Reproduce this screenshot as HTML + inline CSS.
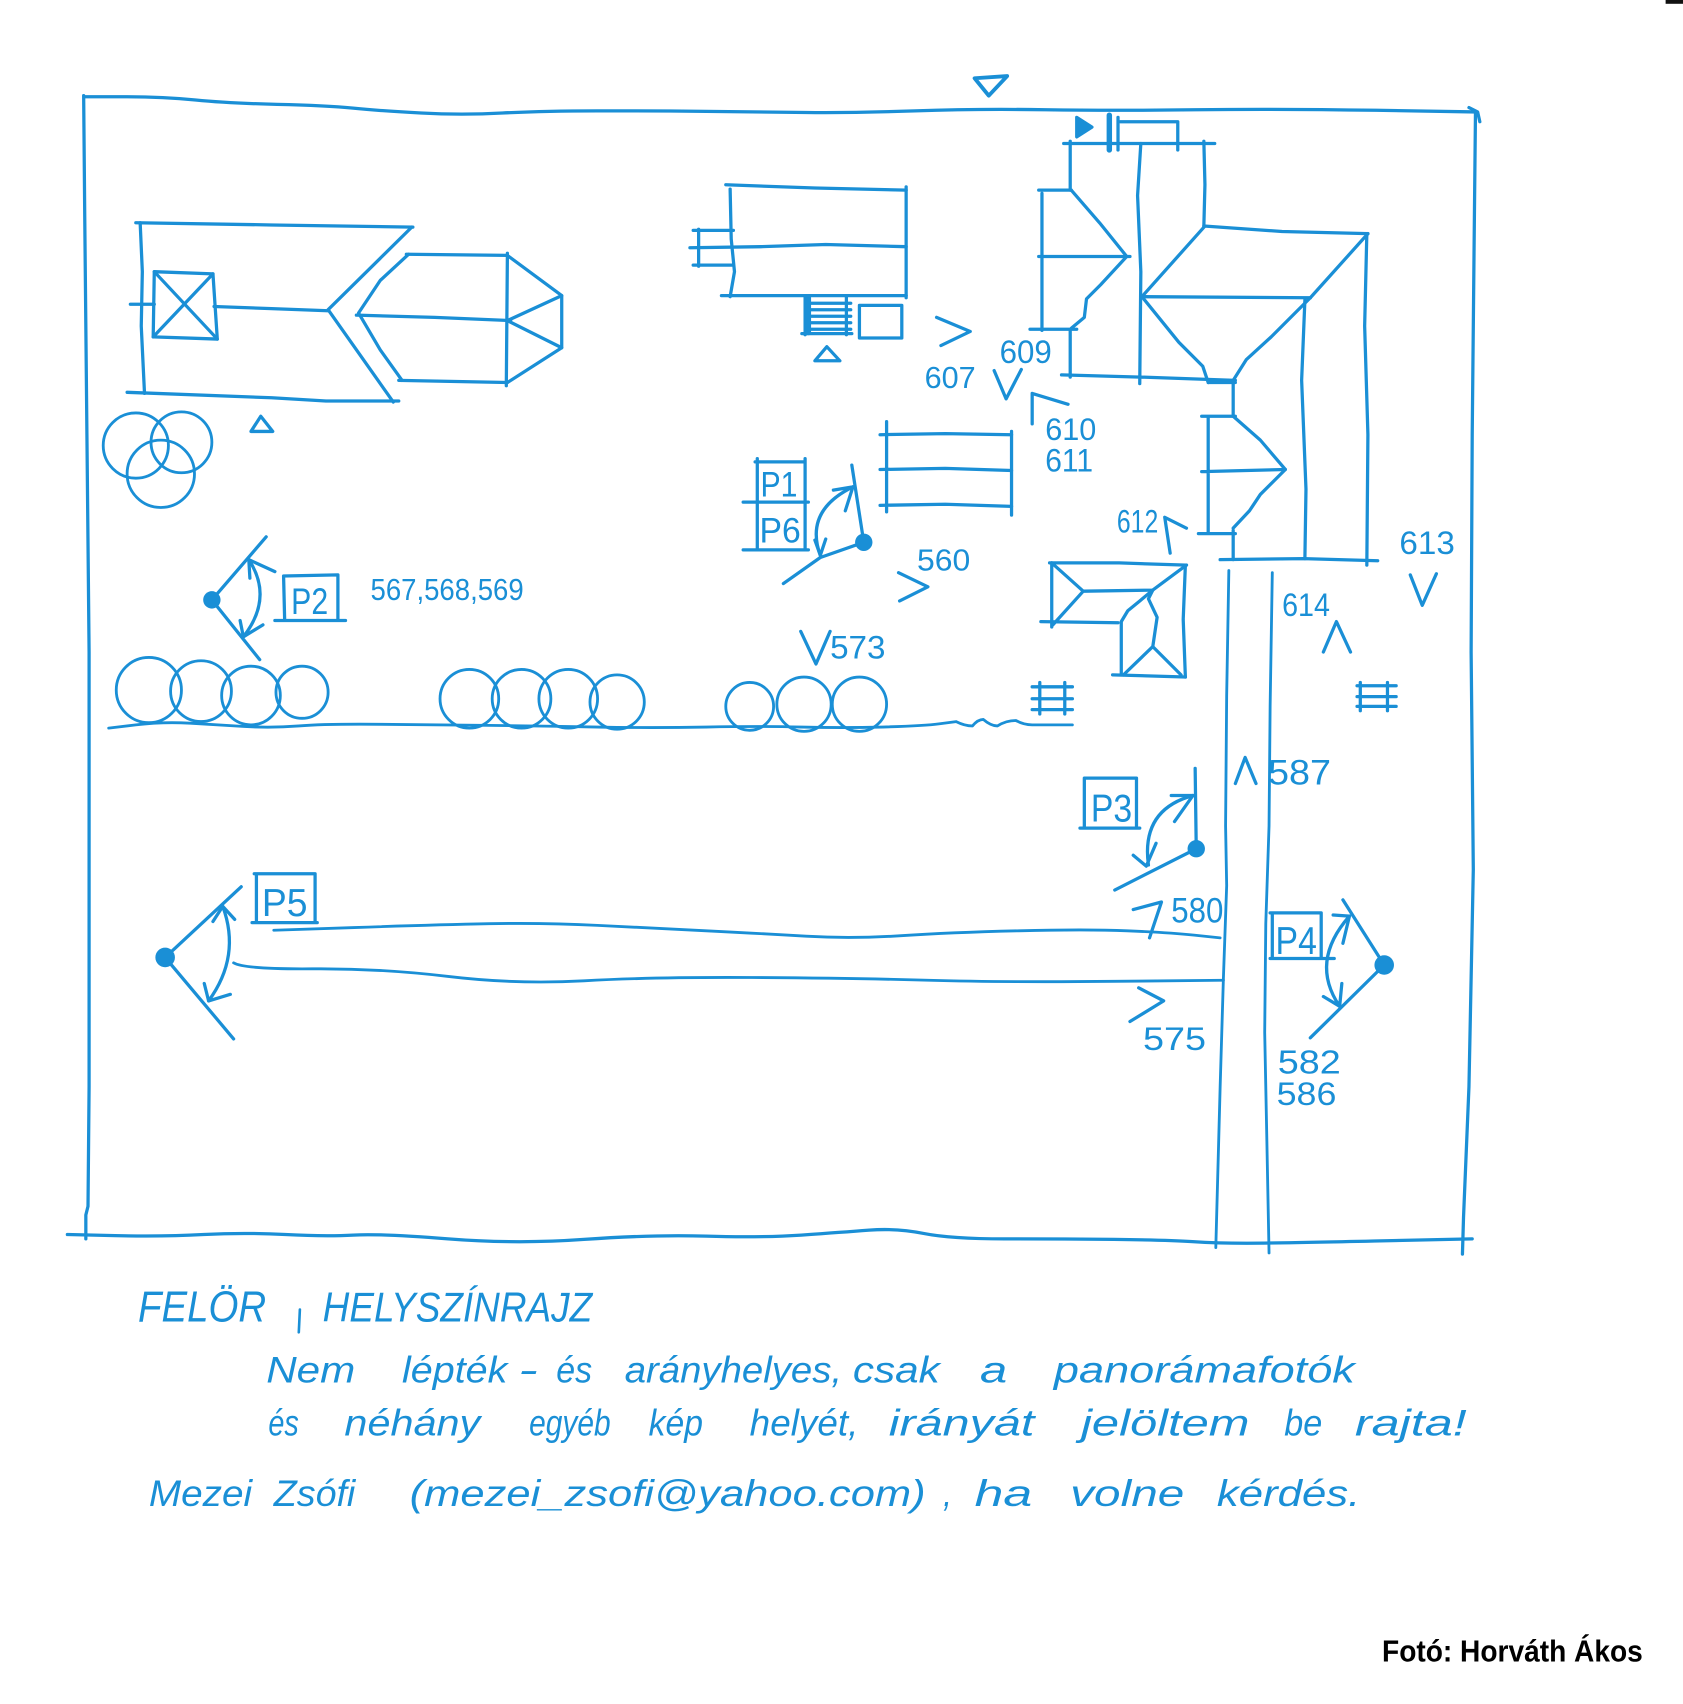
<!DOCTYPE html>
<html><head><meta charset="utf-8"><style>
html,body{margin:0;padding:0;background:#fff;}
svg{display:block;}
</style></head><body>
<svg width="1683" height="1704" viewBox="0 0 1549 1568" preserveAspectRatio="none" xmlns="http://www.w3.org/2000/svg">
<rect x="0" y="0" width="1549" height="1568" fill="#fff"/>
<rect x="1533" y="0" width="16" height="3.5" fill="#111"/>
<g fill="none" stroke="#1a8fd6" stroke-width="3" stroke-linecap="round" stroke-linejoin="round">
<!-- outer border -->
<path d="M78,89 L114,89 Q150,89 180,92 Q210,95 255,96 Q300,97 325,99.5 Q350,102 387.5,104 Q425,106 462.5,104 Q500,102 550,102 Q600,102 650,102.5 Q700,103 742,103.5 Q784,104 842,102 Q900,100 962.5,101 Q1025,102 1100,101 Q1175,100 1266.5,101.5 L1358,103"/>
<path d="M1352,99 L1360,103 L1362,112"/>
<path d="M1358,103 L1357,200 L1355,400 L1354,600 L1356,800 L1352,1000 L1347,1120 L1346,1154"/>
<path d="M62,1136 L106,1137 Q150,1138 187.5,1136 Q225,1134 262.5,1136 Q300,1138 325,1136.5 Q350,1135 412.5,1140 Q475,1145 537.5,1140.5 Q600,1136 650,1137.5 Q700,1139 737.5,1136.5 Q775,1134 800,1132 Q825,1130 850,1135 Q875,1140 925,1140 Q975,1140 1025,1140.5 Q1075,1141 1097.5,1142.5 Q1120,1144 1147.5,1144 Q1175,1144 1265,1142 L1355,1140"/>
<path d="M77,88 L78,200 L80,400 L82,600 L82,800 L82,1000 L81,1110 L79,1118 L79,1140"/>
<!-- north triangle -->
<path d="M897,72 L927,70 L910,88 Z" stroke-width="3.5"/>
<!-- left building -->
<path d="M125,205 L250,207 L380,209"/>
<path d="M129,205 L131,250 L130,300 L133,362"/>
<path d="M117,361 L250,366 L300,369 L367,369"/>
<path d="M379,209 L302,285 L362,370"/>
<path d="M376,234 L350,258 L330,288 L350,322 L370,350"/>
<path d="M374,234 L467,235"/>
<path d="M367,350 L467,352"/>
<path d="M328,290 L400,292 L470,295"/>
<path d="M467,233 L466,355"/>
<path d="M467,235 L517,272 L517,320 L467,352"/>
<path d="M467,295 L517,272 M467,295 L517,320"/>
<path d="M197,282 L250,284 L302,286"/>
<path d="M142,250 L196,252 L200,312 L141,310 Z"/>
<path d="M142,250 L200,312 M196,252 L141,310"/>
<path d="M120,280 L142,280"/>
<circle cx="125" cy="410" r="30" stroke-width="2.6"/>
<circle cx="167" cy="407" r="28" stroke-width="2.6"/>
<circle cx="148" cy="436" r="31" stroke-width="2.6"/>
<path d="M231,397 L240,383 L251,397 Z"/>
<!-- top middle building -->
<path d="M668,170 L750,173 L834,175"/>
<path d="M672,174 L673,220 L676,250 L672,273"/>
<path d="M834,172 L834,274"/>
<path d="M635,228 L700,227 L760,225 L834,227"/>
<path d="M664,272 L834,272"/>
<path d="M638,212 L675,212 M638,244 L675,244 M643,211 L643,245"/>
<path d="M741,272 L741,308 M779,272 L779,308 M741,279 L783,279 M741,285 L783,285 M741,291 L783,291 M741,297 L783,297 M741,303 L783,303 M738,307 L784,307"/>
<path d="M744,274 L744,306" stroke-width="5"/>
<path d="M791,281 L830,281 L830,311 L791,311 Z"/>
<path d="M750,332 L761,319 L773,332 Z"/>
<path d="M862,292 L893,305 L866,318"/>
<path d="M915,341 L926,367 L940,340"/>
<path d="M950,390 L950,362 L983,372"/>
<!-- complex building -->
<path d="M979,132 L1118,132"/>
<path d="M991,108 L1005,117 L991,126 Z" fill="#1a8fd6"/>
<path d="M1021,106 L1021,138" stroke-width="5"/>
<path d="M1029,108 L1029,138"/>
<path d="M1031,112 L1084,112 L1084,138"/>
<path d="M985,130 L985,175"/>
<path d="M956,175 L986,175 M959,178 L959,304 M956,236 L1040,236 M948,303 L991,303"/>
<path d="M986,175 L1012,205 L1037,236 L1013,262 L1000,275 L998,292 L986,302"/>
<path d="M985,304 L985,347"/>
<path d="M977,345 L1050,347 L1137,350"/>
<path d="M1050,132 L1047,180 L1050,250 L1049,353"/>
<path d="M1108,130 L1109,170 L1108,208"/>
<path d="M1108,208 L1180,213 L1259,215"/>
<path d="M1258,215 L1256,300 L1259,400 L1258,520"/>
<path d="M1109,208 L1051,273"/>
<path d="M1051,273 L1206,274"/>
<path d="M1259,215 L1206,274"/>
<path d="M1051,273 L1085,315 L1107,337 L1112,352"/>
<path d="M1206,274 L1170,310 L1147,331 L1135,350"/>
<path d="M1201,276 L1198,350 L1202,450 L1201,514"/>
<path d="M1112,352 L1137,352"/>
<path d="M1135,350 L1135,383"/>
<path d="M1106,383 L1137,383 M1112,383 L1112,491 M1106,434 L1183,432 M1103,491 L1137,491"/>
<path d="M1135,383 L1160,405 L1183,432 L1160,455 L1150,470 L1135,486"/>
<path d="M1135,488 L1135,515"/>
<path d="M1123,515 L1200,514 L1268,516"/>
<path d="M1077,509 L1072,476 L1092,486"/>
<path d="M1298,529 L1309,557 L1322,528"/>
<!-- road -->
<path d="M1131,525 L1129,640 L1128,760 L1129,815 L1126,900 L1123,1000 L1119,1148" stroke-width="2.6"/>
<path d="M1171,527 L1169,650 L1168,760 L1165,850 L1164,950 L1166,1050 L1168,1153" stroke-width="2.6"/>
<path d="M1218,600 L1230,572 L1243,600"/>
<!-- ladders -->
<path d="M957,628 L957,657 M980,628 L980,657 M950,632 L987,632 M950,643 L987,643 M950,653 L987,653"/>
<path d="M1252,628 L1252,654 M1277,628 L1277,654 M1249,631 L1285,631 M1249,641 L1285,641 M1249,650 L1285,650"/>
<!-- small L building -->
<path d="M966,518 L1030,518 L1092,520"/>
<path d="M968,518 L968,577"/>
<path d="M958,572 L1029,573"/>
<path d="M1032,573 L1032,621"/>
<path d="M1024,621 L1091,623"/>
<path d="M1091,520 L1089,570 L1091,623"/>
<path d="M968,518 L997,544 L969,575 M997,544 L1061,543 L1092,520"/>
<path d="M1061,543 L1049,553 L1038,562 L1032,572"/>
<path d="M1061,543 L1057,551 L1065,568 L1061,595 L1034,621 M1061,595 L1087,621"/>
<!-- ground & circles -->
<path d="M100,670 L125,667 Q150,664 175,665.5 Q200,667 225,668.5 Q250,670 275,668 Q300,666 350,666.5 Q400,667 450,667.5 Q500,668 550,669 Q600,670 650,669 Q700,668 737.5,669 Q775,670 812.5,669 Q850,668 865,666 L880,664 Q888,668 895,668 Q900,662 905,662 Q912,668 918,668 Q926,663 935,663 Q942,667 950,667 L987,667" stroke-width="2.6"/>
<g stroke-width="2.6">
<circle cx="137" cy="635" r="30"/><circle cx="185" cy="636" r="28"/><circle cx="231" cy="640" r="27"/><circle cx="278" cy="637" r="24"/>
<circle cx="432" cy="643" r="27"/><circle cx="480" cy="643" r="27"/><circle cx="523" cy="643" r="27"/><circle cx="568" cy="646" r="25"/>
<circle cx="690" cy="650" r="22"/><circle cx="740" cy="648" r="25"/><circle cx="791" cy="648" r="25"/>
</g>
<path d="M737,581 L751,611 L764,581"/>
<!-- band rect -->
<path d="M810,400 L870,399 L931,400"/>
<path d="M810,432 L870,431 L931,433"/>
<path d="M810,465 L870,464 L931,466"/>
<path d="M816,388 L816,471 M931,397 L931,474"/>
<!-- P1 -->
<path d="M695,425 L741,425 M697,422 L697,506 M741,422 L741,506 M684,462 L744,462 M684,506 L744,506"/>
<path d="M795,499 L784,428 M795,499 L755,513 L721,537"/>
<path d="M755,511 Q740,470 785,448"/>
<path d="M785,448 L767,451 M785,448 L778,470 M755,511 L750,497 M755,511 L760,496"/>
<path d="M827,527 L854,540 L828,553"/>
<!-- P2 -->
<path d="M195,552 L245,494 M195,552 L239,607"/>
<path d="M229,515 Q252,550 224,586"/>
<path d="M229,515 L253,526 M229,515 L230,532 M224,586 L242,575 M224,586 L221,571"/>
<path d="M261,530 L311,529 L311,571 M261,530 L262,571 M253,571 L318,571"/>
<!-- P3 -->
<path d="M998,716 L1046,716 L1046,762 M998,716 L998,762 M994,762 L1049,762"/>
<path d="M1100,707 L1101,781 M1101,781 L1026,819"/>
<path d="M1057,796 Q1050,745 1098,732"/>
<path d="M1098,732 L1078,732 M1098,732 L1081,756 M1055,797 L1043,787 M1055,797 L1064,776"/>
<path d="M1137,721 L1146,697 L1156,721"/>
<path d="M1043,837 L1069,830 L1058,863"/>
<path d="M1048,909 L1071,921 L1040,940"/>
<!-- P5 long lines -->
<path d="M252,856 L326,853.5 Q400,851 450,850 Q500,849 550,851.5 Q600,854 650,856.5 Q700,859 742,861.5 Q784,864 829.5,861 Q875,858 937.5,856.5 Q1000,855 1037.5,856.5 Q1075,858 1099,860.5 L1123,863" stroke-width="2.6"/>
<path d="M215,886 Q225,892 287.5,891.5 Q350,891 412.5,898.5 Q475,906 537.5,902.5 Q600,899 692,899.5 Q784,900 854.5,902 Q925,904 1025.5,903 L1126,902" stroke-width="2.6"/>
<!-- P4 -->
<path d="M1169,840 L1216,840 L1216,882 M1171,840 L1171,882 M1169,882 L1228,882"/>
<path d="M1274,888 L1236,828 M1274,888 L1206,955"/>
<path d="M1242,843 Q1205,885 1233,926"/>
<path d="M1242,843 L1227,842 M1242,843 L1236,868 M1233,926 L1218,917 M1233,926 L1235,905"/>
<!-- P5 -->
<path d="M152,881 L222,816 M152,881 L215,956"/>
<path d="M205,834 Q222,880 192,921"/>
<path d="M205,834 L196,848 M205,834 L216,846 M192,921 L188,905 M192,921 L212,915"/>
<path d="M234,804 L290,804 L290,849 M236,804 L236,849 M232,849 L292,849"/>
<!-- title comma -->
<path d="M276,1205 L275,1226" stroke-width="2.4"/>
</g>
<g fill="#1a8fd6">
<circle cx="195" cy="552" r="8"/>
<circle cx="795" cy="499" r="8"/>
<circle cx="1101" cy="781" r="8"/>
<circle cx="1274" cy="888" r="9"/>
<circle cx="152" cy="881" r="9"/>
</g>
<g fill="#1a8fd6" font-family="'Liberation Sans', sans-serif">
<text x="920" y="334" font-size="30" textLength="48" lengthAdjust="spacingAndGlyphs">609</text>
<text x="851" y="357" font-size="28" textLength="47" lengthAdjust="spacingAndGlyphs">607</text>
<text x="962" y="405" font-size="29" textLength="47" lengthAdjust="spacingAndGlyphs">610</text>
<text x="962" y="434" font-size="30" textLength="44" lengthAdjust="spacingAndGlyphs">611</text>
<text x="1028" y="490" font-size="30" textLength="38" lengthAdjust="spacingAndGlyphs">612</text>
<text x="1288" y="510" font-size="30" textLength="51" lengthAdjust="spacingAndGlyphs">613</text>
<text x="1180" y="567" font-size="30" textLength="44" lengthAdjust="spacingAndGlyphs">614</text>
<text x="844" y="525" font-size="28" textLength="49" lengthAdjust="spacingAndGlyphs">560</text>
<text x="764" y="606" font-size="30" textLength="51" lengthAdjust="spacingAndGlyphs">573</text>
<text x="341" y="552" font-size="28" textLength="141" lengthAdjust="spacingAndGlyphs">567,568,569</text>
<text x="1167" y="722" font-size="32" textLength="58" lengthAdjust="spacingAndGlyphs">587</text>
<text x="1078" y="849" font-size="32" textLength="48" lengthAdjust="spacingAndGlyphs">580</text>
<text x="1052" y="966" font-size="30" textLength="58" lengthAdjust="spacingAndGlyphs">575</text>
<text x="1176" y="988" font-size="31" textLength="58" lengthAdjust="spacingAndGlyphs">582</text>
<text x="1175" y="1017" font-size="30" textLength="55" lengthAdjust="spacingAndGlyphs">586</text>
<text x="700" y="457" font-size="32" textLength="34" lengthAdjust="spacingAndGlyphs">P1</text>
<text x="699" y="499" font-size="32" textLength="38" lengthAdjust="spacingAndGlyphs">P6</text>
<text x="268" y="565" font-size="34" textLength="34" lengthAdjust="spacingAndGlyphs">P2</text>
<text x="1004" y="756" font-size="36" textLength="38" lengthAdjust="spacingAndGlyphs">P3</text>
<text x="1174" y="878" font-size="36" textLength="38" lengthAdjust="spacingAndGlyphs">P4</text>
<text x="241" y="843" font-size="36" textLength="42" lengthAdjust="spacingAndGlyphs">P5</text>
</g>
<g fill="#1a8fd6" font-family="'Liberation Sans', sans-serif" font-style="italic">
<text x="127" y="1216" font-size="40" textLength="118" lengthAdjust="spacingAndGlyphs">FELÖR</text>
<text x="297" y="1216" font-size="38" textLength="248" lengthAdjust="spacingAndGlyphs">HELYSZÍNRAJZ</text>
<text x="245" y="1272" font-size="34" textLength="82" lengthAdjust="spacingAndGlyphs">Nem</text>
<text x="370" y="1272" font-size="34" textLength="97" lengthAdjust="spacingAndGlyphs">lépték</text>
<text x="477" y="1272" font-size="34" textLength="18" lengthAdjust="spacingAndGlyphs">-</text>
<text x="512" y="1272" font-size="34" textLength="33" lengthAdjust="spacingAndGlyphs">és</text>
<text x="575" y="1272" font-size="34" textLength="200" lengthAdjust="spacingAndGlyphs">arányhelyes,</text>
<text x="785" y="1272" font-size="34" textLength="80" lengthAdjust="spacingAndGlyphs">csak</text>
<text x="902" y="1272" font-size="34" textLength="25" lengthAdjust="spacingAndGlyphs">a</text>
<text x="970" y="1272" font-size="34" textLength="277" lengthAdjust="spacingAndGlyphs">panorámafotók</text>
<text x="247" y="1321" font-size="34" textLength="28" lengthAdjust="spacingAndGlyphs">és</text>
<text x="317" y="1321" font-size="34" textLength="125" lengthAdjust="spacingAndGlyphs">néhány</text>
<text x="487" y="1321" font-size="34" textLength="75" lengthAdjust="spacingAndGlyphs">egyéb</text>
<text x="597" y="1321" font-size="34" textLength="50" lengthAdjust="spacingAndGlyphs">kép</text>
<text x="690" y="1321" font-size="34" textLength="100" lengthAdjust="spacingAndGlyphs">helyét,</text>
<text x="818" y="1321" font-size="34" textLength="134" lengthAdjust="spacingAndGlyphs">irányát</text>
<text x="995" y="1321" font-size="34" textLength="155" lengthAdjust="spacingAndGlyphs">jelöltem</text>
<text x="1182" y="1321" font-size="34" textLength="35" lengthAdjust="spacingAndGlyphs">be</text>
<text x="1247" y="1321" font-size="34" textLength="103" lengthAdjust="spacingAndGlyphs">rajta!</text>
<text x="137" y="1386" font-size="34" textLength="95" lengthAdjust="spacingAndGlyphs">Mezei</text>
<text x="252" y="1386" font-size="34" textLength="75" lengthAdjust="spacingAndGlyphs">Zsófi</text>
<text x="377" y="1386" font-size="34" textLength="475" lengthAdjust="spacingAndGlyphs">(mezei_zsofi@yahoo.com)</text>
<text x="868" y="1386" font-size="34" textLength="8" lengthAdjust="spacingAndGlyphs">,</text>
<text x="897" y="1386" font-size="34" textLength="53" lengthAdjust="spacingAndGlyphs">ha</text>
<text x="985" y="1386" font-size="34" textLength="105" lengthAdjust="spacingAndGlyphs">volne</text>
<text x="1120" y="1386" font-size="34" textLength="132" lengthAdjust="spacingAndGlyphs">kérdés.</text>
</g>
<text x="1272" y="1529" font-family="'Liberation Sans', sans-serif" font-weight="bold" font-size="28" fill="#000" textLength="240" lengthAdjust="spacingAndGlyphs">Fotó: Horváth Ákos</text>
</svg>
</body></html>
